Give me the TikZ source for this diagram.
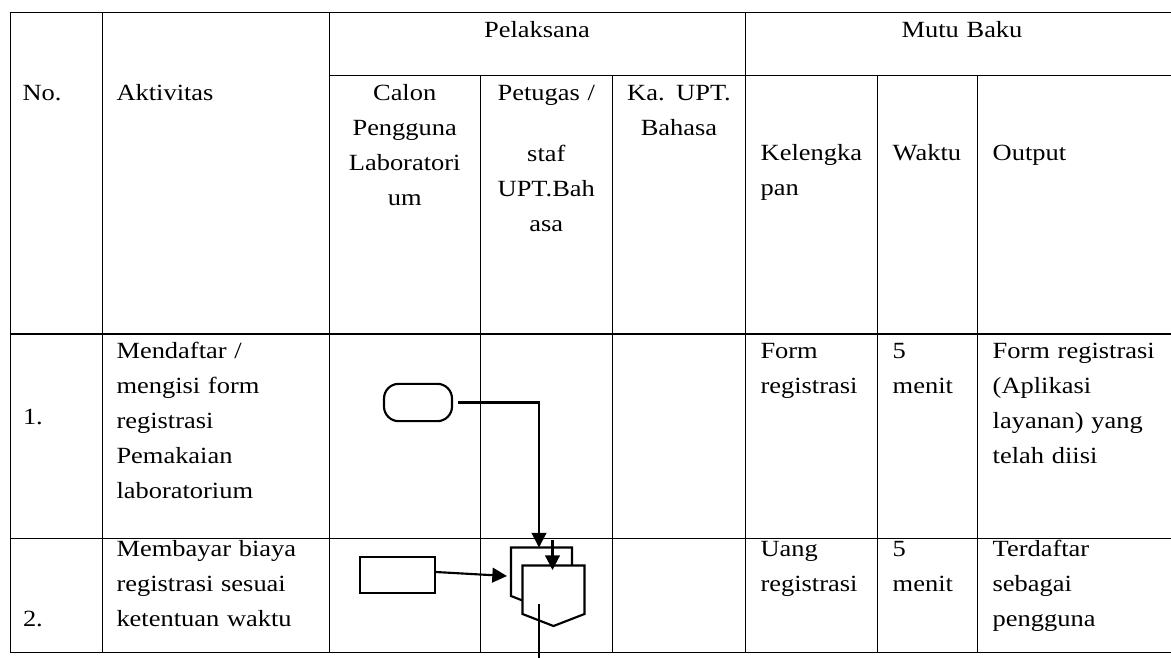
\documentclass[tikz,border=0pt]{standalone}
\usepackage{fontspec}
\setmainfont{Liberation Serif}[FakeStretch=1.14]
\usetikzlibrary{arrows.meta}
\tikzset{
	grid/.style={line width=0.8pt},
	flow/.style={line width=1.6pt},
	arr/.style={-{Triangle[length=11pt,width=11pt]}},
	txt/.style={inner sep=0,outer sep=0,text width=150pt,font=\fontsize{17.4pt}{26.25pt}\selectfont},
	lefttxt/.style={txt,align=left,anchor=base west},
	midtxt/.style={txt,align=center,anchor=base},
}
\begin{document}
\begin{tikzpicture}[x=0.75pt,y=-0.75pt]
	\useasboundingbox (0,0) rectangle (1171,657);
	% table grid
	\draw[grid] (10.5,12.3) -- (1171,12.3);
	\draw[grid] (329.5,75.5) -- (1171,75.5);
	\draw[grid] (10.5,334) -- (1171,334);
	\draw[grid] (10.5,538.3) -- (1171,538.3);
	\draw[grid] (10.5,652.7) -- (1171,652.7);
	\draw[grid] (10.7,12.3) -- (10.7,652.7);
	\draw[grid] (102.3,12.3) -- (102.3,652.7);
	\draw[grid] (329.5,12.3) -- (329.5,652.7);
	\draw[grid] (480.3,75.5) -- (480.3,652.7);
	\draw[grid] (612.7,75.5) -- (612.7,652.7);
	\draw[grid] (745.3,12.3) -- (745.3,652.7);
	\draw[grid] (877.5,75.5) -- (877.5,652.7);
	\draw[grid] (977.5,75.5) -- (977.5,652.7);
	% header
	\node[lefttxt] (hno) at (22.5,100.7) {No.};
	\node[lefttxt] (hakt) at (116.5,100.7) {Aktivitas};
	\node[midtxt] (hpel) at (537,37) {Pelaksana};
	\node[midtxt] (hmutu) at (962,37) {Mutu Baku};
	\node[midtxt] (hcalon) at (404.7,100.7) {Calon\\Pengguna\\Laboratori\\um};
	\node[midtxt] (hpetugas) at (546.3,100.7) {Petugas /\\[19.5pt]staf\\UPT.Bah\\asa};
	\node[midtxt] (hka) at (679,100.7) {Ka. UPT.\\Bahasa};
	\node[lefttxt] (hkel) at (760.7,160) {Kelengka\\pan};
	\node[lefttxt] (hwaktu) at (892.7,160) {Waktu};
	\node[lefttxt] (houtput) at (992.7,160) {Output};
	% row 1
	\node[lefttxt] (no1) at (23,424) {1.};
	\node[lefttxt] (akt1) at (116.5,358.3) {Mendaftar /\\mengisi form\\registrasi\\Pemakaian\\laboratorium};
	\node[lefttxt] (kel1) at (760.5,358.3) {Form\\registrasi};
	\node[lefttxt] (waktu1) at (892.7,358.3) {5\\menit};
	\node[lefttxt] (out1) at (992.7,358.3) {Form registrasi\\(Aplikasi\\layanan) yang\\telah diisi};
	% row 2
	\node[lefttxt] (no2) at (23,626.7) {2.};
	\node[lefttxt] (akt2) at (116.5,556.7) {Membayar biaya\\registrasi sesuai\\ketentuan waktu};
	\node[lefttxt] (kel2) at (760.5,556.7) {Uang\\registrasi};
	\node[lefttxt] (waktu2) at (892.7,556.7) {5\\menit};
	\node[lefttxt] (out2) at (992.7,556.7) {Terdaftar\\sebagai\\pengguna};
	% flow symbols
	\node[flow,draw,rectangle,rounded corners=11pt,minimum width=51pt,minimum height=28pt] (start) at (418,402.5) {};
	\node[flow,draw,rectangle,minimum width=56pt,minimum height=27pt] (pay) at (397.5,575) {};
	\draw[flow,fill=white] (511,547.5) -- (572,547.5) -- (572,596) -- (541.5,608) -- (511,596) -- cycle;
	\draw[flow,fill=white] (522.5,565.5) -- (584.5,565.5) -- (584.5,614) -- (553.5,626) -- (522.5,614) -- cycle;
	\coordinate (doctop) at (539,547.5);
	\coordinate (docin) at (507,576);
	\coordinate (subtop) at (552.5,540);
	\coordinate (subin) at (552.5,570);
	\coordinate (docout) at (539,604);
	\coordinate (down) at (539,660);
	% connectors
	\draw[flow,arr,shorten <=4pt] (start.east) -| (doctop);
	\draw[flow,arr] ([yshift=2.25pt]pay.east) -- (docin);
	\draw[flow,arr] (subtop) -- (subin);
	\draw[flow] (docout) -- (down);
\end{tikzpicture}
\end{document}
